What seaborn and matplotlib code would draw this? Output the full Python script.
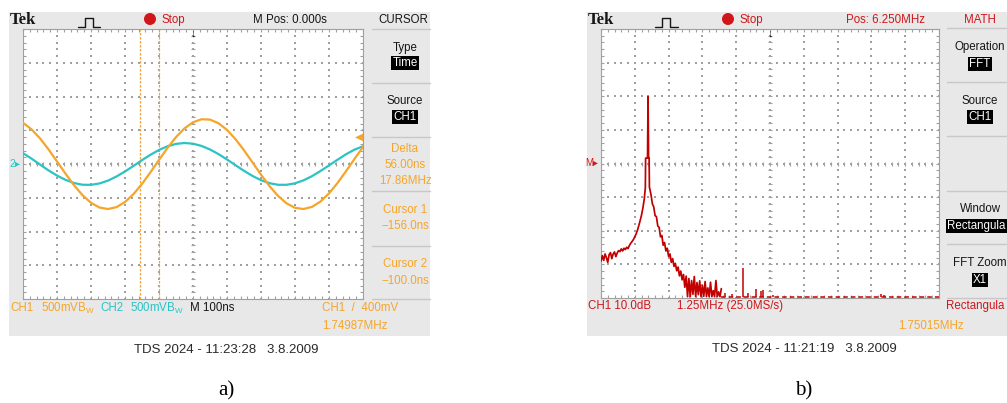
import matplotlib
matplotlib.use("Agg")
import matplotlib.pyplot as plt
import matplotlib.transforms as mtrans
from matplotlib.patches import Rectangle, Ellipse
from matplotlib.lines import Line2D
import seaborn as sns

# ---------------- data ----------------
# panel a) oscilloscope traces: time (ns) and volts
time_ns = [-500, -475, -450, -425, -400, -375, -350, -325, -300, -275, -250,
           -225, -200, -175, -150, -125, -100, -75, -50, -25, 0,
           25, 50, 75, 100, 125, 150, 175, 200, 225, 250,
           275, 300, 325, 350, 375, 400, 425, 450, 475, 500]
ch1_volts = [0.610, 0.514, 0.380, 0.217, 0.038, -0.143, -0.314, -0.462, -0.575, -0.645, -0.667,
             -0.639, -0.563, -0.446, -0.295, -0.122, 0.060, 0.238, 0.398, 0.528, 0.618,
             0.663, 0.658, 0.604, 0.505, 0.368, 0.203, 0.024, -0.158, -0.327, -0.472,
             -0.582, -0.649, -0.667, -0.635, -0.556, -0.435, -0.282, -0.107, 0.075, 0.251]
ch2_volts = [0.160, 0.080, -0.008, -0.095, -0.171, -0.235, -0.282, -0.307, -0.309, -0.288, -0.246,
             -0.185, -0.111, -0.028, 0.057, 0.137, 0.208, 0.263, 0.298, 0.311, 0.301,
             0.268, 0.215, 0.147, 0.067, -0.018, -0.101, -0.177, -0.240, -0.284, -0.308,
             -0.308, -0.286, -0.242, -0.180, -0.104, -0.021, 0.063, 0.144, 0.213, 0.262]
cursor_ns = [-156.0, -100.0]
trigger_level_v = 0.4

# panel b) FFT of CH1: frequency (MHz) and level (dB, relative to screen centre)
fft_mhz = [0.00, 0.05, 0.10, 0.15, 0.20, 0.25, 0.30, 0.35, 0.40, 0.45, 0.50, 0.55, 0.60, 0.65,
           0.70, 0.75, 0.80, 0.85, 0.90, 0.95, 1.00, 1.05, 1.10, 1.15, 1.20, 1.25, 1.30, 1.35,
           1.40, 1.45, 1.50, 1.55, 1.60, 1.64, 1.65, 1.72, 1.74, 1.76, 1.78, 1.79,
           1.85, 1.90, 1.95, 2.00, 2.05, 2.10, 2.15, 2.20, 2.25, 2.30, 2.35, 2.40, 2.45, 2.50,
           2.55, 2.60, 2.65, 2.70, 2.75, 2.80, 2.85, 2.90, 2.95, 3.00, 3.05, 3.10, 3.15, 3.20,
           3.25, 3.30, 3.35, 3.40, 3.45, 3.50, 3.55, 3.60, 3.65, 3.70, 3.75, 3.80, 3.85, 3.90,
           3.95, 4.00, 4.05, 4.10, 4.15, 4.20, 4.25, 4.30, 4.35, 4.40, 4.45]
fft_db = [-29.0, -27.4, -28.8, -26.9, -28.0, -29.4, -27.1, -26.5, -28.3, -26.9, -26.3, -27.7, -26.6, -25.9,
          -26.2, -25.4, -26.0, -25.2, -25.6, -24.9, -25.3, -24.4, -23.7, -23.2, -22.6, -21.8, -20.9, -19.8,
          -18.4, -16.9, -15.3, -13.2, -10.6, -7.2, 1.6, 1.6, 19.9, 1.6, 1.6, -7.0,
          -9.3, -12.0, -12.9, -15.5, -15.8, -18.6, -19.0, -21.8, -21.4, -24.3, -23.5, -26.0, -25.2, -27.6,
          -26.9, -29.4, -28.3, -30.6, -29.7, -31.9, -30.8, -33.4, -32.0, -34.6, -33.0, -36.8, -33.5, -39.6,
          -34.2, -39.6, -34.8, -38.9, -33.6, -39.6, -35.4, -39.0, -34.9, -39.6, -36.3, -39.5, -35.1, -39.6,
          -37.0, -39.6, -35.3, -39.6, -37.8, -39.6, -34.8, -39.6, -38.2, -39.6, -37.2]
floor_mhz = [4.45, 12.5]
floor_db = [-39.6, -39.6]
spur_mhz = [4.60, 4.85, 5.25, 5.45, 5.75, 5.90, 6.00, 6.35, 10.35, 10.45]
spur_db = [-38.4, -38.9, -31.2, -38.5, -37.4, -38.0, -37.6, -39.0, -38.8, -39.0]

# ---------------- style ----------------
W, H = 1007, 403
sns.set_theme(style="white")
plt.rcParams["font.family"] = ["Liberation Sans", "DejaVu Sans"]

ORANGE = "#f5a52a"
CYAN = "#2cc3c5"
RED = "#d0161a"
TRACE = "#c20000"
BG = "#e8e8e8"
GRIDC = "#a0a0a0"
SEP = "#c8c8c8"
INK = "#161616"
SMALL = 8.3

fig = plt.figure(figsize=(W / 100, H / 100), dpi=100)
fig.patch.set_facecolor("white")


def fig_rect(x0, y0, x1, y1, **kw):
    fig.add_artist(Rectangle((x0 / W, 1 - y1 / H), (x1 - x0) / W, (y1 - y0) / H,
                             transform=fig.transFigure, zorder=-5, **kw))


def fig_line(xs, ys, **kw):
    fig.add_artist(Line2D([x / W for x in xs], [1 - y / H for y in ys],
                          transform=fig.transFigure, **kw))


def T(x, y, s, color=INK, size=SMALL, ha="left", **kw):
    fig.text(x / W, 1 - y / H, s, color=color, fontsize=size, ha=ha, va="center", **kw)


def scope_axes(px, x0, x1, nx, y0, y1, ny):
    l, t, r, b = px
    ax = fig.add_axes([l / W, 1 - b / H, (r - l) / W, (b - t) / H])
    ax.set_xlim(x0, x1)
    ax.set_ylim(y0, y1)
    ax.set_facecolor("white")
    dx = (x1 - x0) / nx
    dy = (y1 - y0) / ny
    xs_major = [x0 + i * dx for i in range(nx + 1)]
    ys_major = [y0 + j * dy for j in range(ny + 1)]
    xs_minor = [x0 + i * dx / 5 for i in range(nx * 5 + 1)]
    ys_minor = [y0 + j * dy / 5 for j in range(ny * 5 + 1)]
    xc, yc = (x0 + x1) / 2, (y0 + y1) / 2
    for y in ys_major[1:-1]:
        ax.scatter(xs_minor, [y] * len(xs_minor), s=1.5, c=GRIDC, marker="s", linewidths=0, zorder=1)
    for x in xs_major[1:-1]:
        ax.scatter([x] * len(ys_minor), ys_minor, s=1.5, c=GRIDC, marker="s", linewidths=0, zorder=1)
    ax.scatter(xs_minor, [yc] * len(xs_minor), marker="|", s=12, c=GRIDC, linewidths=0.8, zorder=1)
    ax.scatter([xc] * len(ys_minor), ys_minor, marker="_", s=12, c=GRIDC, linewidths=0.8, zorder=1)
    ax.set_xticks(xs_major)
    ax.set_yticks(ys_major)
    ax.set_xticks(xs_minor, minor=True)
    ax.set_yticks(ys_minor, minor=True)
    ax.tick_params(which="both", direction="in", length=2.5, width=0.8, color=GRIDC,
                   top=True, right=True, bottom=True, left=True,
                   labelbottom=False, labelleft=False)
    for sp in ax.spines.values():
        sp.set_color(GRIDC)
        sp.set_linewidth(0.8)
    ax.set_xlabel("")
    ax.set_ylabel("")
    return ax


# ---------------- background panels ----------------
fig_rect(9, 12, 430, 336, facecolor=BG, edgecolor="none")
fig_rect(587, 12, 1007, 336, facecolor=BG, edgecolor="none")

# ---------------- panel a ----------------
ax_a = scope_axes((23, 29, 363, 299), -500, 500, 10, -2.0, 2.0, 8)
sns.lineplot(x=time_ns, y=ch2_volts, ax=ax_a, color=CYAN, linewidth=1.6,
             estimator=None, sort=False, legend=False, zorder=3)
sns.lineplot(x=time_ns, y=ch1_volts, ax=ax_a, color=ORANGE, linewidth=1.6,
             estimator=None, sort=False, legend=False, zorder=4)
for c in cursor_ns:
    ax_a.axvline(c, color=ORANGE, linewidth=0.9, linestyle=(0, (2, 1.2)), zorder=2)
ax_a.set_xlabel("")
ax_a.set_ylabel("")
ax_a.text(500, trigger_level_v, "\u25c0", color=ORANGE, fontsize=7.5, ha="right", va="center",
          family=["DejaVu Sans"], zorder=5)
blend_a = mtrans.blended_transform_factory(ax_a.transAxes, ax_a.transData)
ax_a.text(-0.008, 0.0, "2\u25b8", color=CYAN, fontsize=7.5, ha="right", va="center",
          transform=blend_a, clip_on=False, family=["Liberation Sans", "DejaVu Sans"])

# header a
T(10, 20, "Tek", size=12, fontfamily=["Liberation Serif"], fontweight="bold")
fig_line([78, 85, 85, 93, 93, 100], [27, 27, 18, 18, 27, 27], color=INK, linewidth=1.0)
fig.add_artist(Ellipse((150 / W, 1 - 19 / H), 12 / W, 12 / H, transform=fig.transFigure,
                       facecolor=RED, edgecolor="none"))
T(161, 20, "Stop", RED)
T(253, 20, "M Pos: 0.000s")
T(403, 20, "CURSOR", ha="center")
T(193, 33, "\u2193", size=8, ha="center", fontweight="bold")

# menu a
for y in [29, 83, 137, 191, 246, 299]:
    fig_line([372, 430], [y, y], color=SEP, linewidth=1.0)
boxkw = dict(boxstyle="square,pad=0.12", facecolor="black", edgecolor="none")
T(405, 48, "Type", ha="center")
T(405, 63, "Time", color="white", ha="center", bbox=boxkw)
T(405, 101, "Source", ha="center")
T(405, 117, "CH1", color="white", ha="center", bbox=boxkw)
T(405, 149, "Delta", ORANGE, ha="center")
T(405, 165, "56.00ns", ORANGE, ha="center")
T(405, 181, "17.86MHz", ORANGE, ha="center")
T(405, 210, "Cursor 1", ORANGE, ha="center")
T(405, 226, "\u2212156.0ns", ORANGE, ha="center")
T(405, 264, "Cursor 2", ORANGE, ha="center")
T(405, 281, "\u2212100.0ns", ORANGE, ha="center")

# footer a
T(10, 308, "CH1", ORANGE)
T(41, 308, "500mV$\\mathregular{B_W}$", ORANGE)
T(100, 308, "CH2", CYAN)
T(130, 308, "500mV$\\mathregular{B_W}$", CYAN)
T(190, 308, "M 100ns")
T(322, 308, "CH1  /  400mV", ORANGE)
T(322, 326, "1.74987MHz", ORANGE)
T(226, 350, "TDS 2024 - 11:23:28   3.8.2009", "#2a2a2a", size=9.5, ha="center")
T(226, 391, "a)", "black", size=15, ha="center", fontfamily=["Liberation Serif"])

# ---------------- panel b ----------------
ax_b = scope_axes((601, 29, 939, 298), 0.0, 12.5, 10, -40.0, 40.0, 8)
sns.lineplot(x=fft_mhz, y=fft_db, ax=ax_b, color=TRACE, linewidth=1.25,
             estimator=None, sort=False, legend=False, zorder=4)
ax_b.plot(floor_mhz, floor_db, color=TRACE, linewidth=1.1, linestyle=(0, (3, 2)), zorder=4)
ax_b.vlines(spur_mhz, -39.6, spur_db, color=TRACE, linewidth=1.1, zorder=4)
ax_b.set_xlabel("")
ax_b.set_ylabel("")
blend_b = mtrans.blended_transform_factory(ax_b.transAxes, ax_b.transData)
ax_b.text(-0.008, 0.0, "M\u25b8", color=RED, fontsize=7, ha="right", va="center",
          transform=blend_b, clip_on=False, family=["Liberation Sans", "DejaVu Sans"])

# header b
T(588, 20, "Tek", size=12, fontfamily=["Liberation Serif"], fontweight="bold")
fig_line([655, 662, 662, 670, 670, 678], [27, 27, 18, 18, 27, 27], color=INK, linewidth=1.0)
fig.add_artist(Ellipse((728 / W, 1 - 19 / H), 12 / W, 12 / H, transform=fig.transFigure,
                       facecolor=RED, edgecolor="none"))
T(739, 20, "Stop", RED)
T(846, 20, "Pos: 6.250MHz", RED)
T(980, 20, "MATH", RED, ha="center")
T(770, 33, "\u2193", size=8, ha="center", fontweight="bold")

# menu b
for y in [28, 82, 136, 191, 244, 298]:
    fig_line([947, 1007], [y, y], color=SEP, linewidth=1.0)
T(980, 47, "Operation", ha="center")
T(980, 64, "FFT", color="white", ha="center", bbox=boxkw)
T(980, 101, "Source", ha="center")
T(980, 117, "CH1", color="white", ha="center", bbox=boxkw)
T(980, 209, "Window", ha="center")
T(947, 226, "Rectangula", color="white", bbox=boxkw)
T(980, 263, "FFT Zoom", ha="center")
T(980, 280, "X1", color="white", ha="center", bbox=boxkw)

# footer b
T(588, 306, "CH1 10.0dB", RED)
T(677, 306, "1.25MHz (25.0MS/s)", RED)
T(946, 306, "Rectangula", RED)
T(898, 326, "1.75015MHz", ORANGE)
T(804, 349, "TDS 2024 - 11:21:19   3.8.2009", "#2a2a2a", size=9.5, ha="center")
T(804, 391, "b)", "black", size=15, ha="center", fontfamily=["Liberation Serif"])

fig.savefig("out.png", dpi=100, facecolor="white")
